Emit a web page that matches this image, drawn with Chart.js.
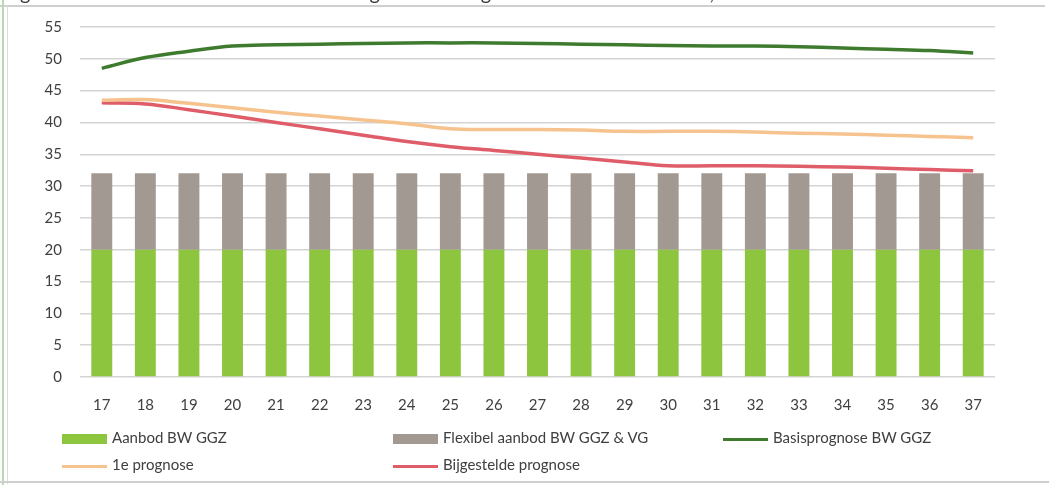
<!DOCTYPE html>
<html>
<head>
<meta charset="utf-8">
<script src="https://cdn.jsdelivr.net/npm/chart.js@4.4.1/dist/chart.umd.min.js"></script>
<style>
    html, body { margin: 0; padding: 0; background: #fff; }
    body { width: 1049px; height: 485px; position: relative; overflow: hidden; font-family: Lato, "Open Sans", sans-serif; }
    #title { position: absolute; left: 4px; top: -20px; font-size: 20px; line-height: 24px; color: #3a3a3a; white-space: nowrap; }
    .frame { position: absolute; }
    #wrap { position: absolute; left: 0; top: 0; width: 1049px; height: 485px; }
    .lg { position: absolute; font-size: 15px; color: #404040; white-space: nowrap; line-height: 18px; }
    .lg i { display: inline-block; width: 45px; vertical-align: middle; margin-right: 5px; }
</style>
</head>
<body>
<div id="wrap"><canvas id="chart" width="1049" height="485"></canvas></div>
<div id="title">Figuur 3.2.2: Confrontatie aanbod en vraagontwikkeling Beschermd Wonen GGZ, 2017 - 2037</div>
<div class="frame" style="left:0;top:5px;width:1045px;height:2px;background:#cfcfcf"></div>
<div class="frame" style="left:2px;top:0;width:2px;height:485px;background:#b9d9b1"></div>
<div class="frame" style="left:7px;top:6px;width:1px;height:478px;background:#dcdcdc"></div>
<div class="frame" style="left:0;top:481px;width:1049px;height:2px;background:#cfcfcf"></div>
<div id="legend"></div>
<script>
// years (20xx)
const years = ['17', '18', '19', '20', '21', '22', '23', '24', '25', '26', '27', '28', '29', '30', '31', '32', '33', '34', '35', '36', '37'];

const aanbod   = [20, 20, 20, 20, 20, 20, 20, 20, 20, 20, 20, 20, 20, 20, 20, 20, 20, 20, 20, 20, 20];
const flexibel = [12, 12, 12, 12, 12, 12, 12, 12, 12, 12, 12, 12, 12, 12, 12, 12, 12, 12, 12, 12, 12];

const basisprognose = [48.5, 50.2, 51.2, 52.0, 52.2, 52.3, 52.4, 52.5, 52.5, 52.5, 52.4, 52.3, 52.2, 52.1, 52.0, 52.0, 51.9, 51.7, 51.5, 51.3, 50.9];
const eersteprognose = [43.5, 43.6, 43.0, 42.3, 41.6, 41.0, 40.4, 39.8, 39.0, 38.9, 38.9, 38.8, 38.6, 38.6, 38.6, 38.5, 38.3, 38.2, 38.0, 37.8, 37.6];
const bijgesteld = [43.1, 42.9, 42.0, 41.0, 40.0, 39.0, 38.0, 37.0, 36.2, 35.6, 35.0, 34.4, 33.8, 33.2, 33.2, 33.2, 33.1, 33.0, 32.8, 32.6, 32.4];

const yTicks = [0, 5, 10, 15, 20, 25, 30, 35, 40, 45, 50, 55];

const font = { family: 'Lato, "Open Sans", sans-serif', size: 15 };

const datasets = [
    { type: 'bar', label: 'Aanbod BW GGZ', data: aanbod, backgroundColor: '#8dc53e', stack: 'aanbod', order: 2,
      categoryPercentage: 1, barPercentage: 0.48 },
    { type: 'bar', label: 'Flexibel aanbod BW GGZ & VG', data: flexibel, backgroundColor: '#a29a92', stack: 'aanbod', order: 2,
      categoryPercentage: 1, barPercentage: 0.48 },
    { type: 'line', label: 'Basisprognose BW GGZ', data: basisprognose, borderColor: '#3f7b2e', borderWidth: 3.5,
      pointRadius: 0, tension: 0.4, stack: 'basis', order: 1, fill: false },
    { type: 'line', label: '1e prognose', data: eersteprognose, borderColor: '#f6c38e', borderWidth: 3.5,
      pointRadius: 0, tension: 0.4, stack: 'eerste', order: 1, fill: false },
    { type: 'line', label: 'Bijgestelde prognose', data: bijgesteld, borderColor: '#df5d68', borderWidth: 3.5,
      pointRadius: 0, tension: 0.4, stack: 'bijgesteld', order: 1, fill: false }
];

new Chart(document.getElementById('chart').getContext('2d'), {
    data: { labels: years, datasets: datasets },
    options: {
        responsive: false,
        animation: false,
        layout: { padding: { top: 19, right: 54, left: 0, bottom: 68 } },
        plugins: { legend: { display: false }, tooltip: { enabled: false } },
        scales: {
            x: {
                stacked: true,
                grid: { display: false, drawTicks: false },
                border: { display: false },
                ticks: { color: '#404040', font: font, padding: 19, maxRotation: 0 },
                afterFit: s => { s.height = 40; }
            },
            y: {
                stacked: true,
                min: 0,
                max: 55,
                afterBuildTicks: s => { s.ticks = yTicks.map(v => ({ value: v })); },
                grid: { color: '#d4d4d4', lineWidth: 1.5, drawTicks: false },
                border: { display: false },
                ticks: { color: '#404040', font: font, padding: 18 },
                afterFit: s => { s.width = 80; }
            }
        }
    }
});

// legend laid out in Excel's grid
const legendSpots = [
    { x: 62, y: 428, mark: 'box' }, { x: 393, y: 428, mark: 'box' }, { x: 723, y: 428, mark: 'line' },
    { x: 62, y: 455, mark: 'line' }, { x: 393, y: 455, mark: 'line' }
];
const legend = document.getElementById('legend');
datasets.forEach((d, i) => {
    const s = legendSpots[i];
    const color = d.type === 'bar' ? d.backgroundColor : d.borderColor;
    const h = s.mark === 'box' ? 10 : 3;
    const el = document.createElement('div');
    el.className = 'lg';
    el.style.left = s.x + 'px';
    el.style.top = s.y + 'px';
    el.innerHTML = `<i style="height:${h}px;background:${color}"></i>` + d.label.replace('&', '&amp;');
    legend.appendChild(el);
});
</script>
</body>
</html>
